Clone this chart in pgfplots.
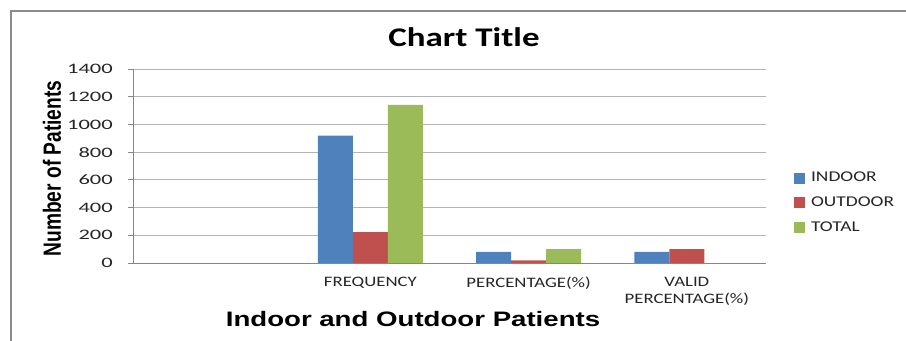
\documentclass[border=0pt]{standalone}
\usepackage{fontspec}
\usepackage{graphicx}
\usepackage{pgfplots}
\pgfplotsset{compat=1.18}

% Wide fonts for the horizontal texts, a condensed one for the rotated axis title
\newfontfamily\tickfont[FakeStretch=1.3]{Carlito}
\newfontfamily\titlefont[FakeStretch=1.3]{Carlito Bold}
\newfontfamily\xlabfont[FakeStretch=1.32]{Liberation Sans Bold}
\newfontfamily\ylabfont[FakeStretch=0.77]{Liberation Sans Bold}
% widened value labels on the vertical axis
\newcommand\ynum[1]{\scalebox{1.2}[1]{#1}}

\definecolor{indoor}{HTML}{4F81BD}
\definecolor{outdoor}{HTML}{C0504D}
\definecolor{total}{HTML}{9BBB59}
\definecolor{axisgray}{HTML}{868686}
\definecolor{gridgray}{HTML}{B4B4B4}
\definecolor{framegray}{HTML}{8C8C8C}

\begin{document}
\begin{tikzpicture}
\useasboundingbox (0,0) rectangle (906bp,341bp);
% outer chart frame
\draw[framegray, line width=1.6bp] (11bp,-2bp) -- (11bp,330bp) -- (910bp,330bp);

\begin{axis}[
  at={(133bp,78bp)}, anchor=south west,
  scale only axis, width=633bp, height=194bp,
  ybar=0pt, bar width=35bp,
  xmin=-0.5, xmax=3.5,
  ymin=0, ymax=1400,
  ytick={0,200,400,600,800,1000,1200,1400},
  yticklabels={\ynum{0},\ynum{200},\ynum{400},\ynum{600},\ynum{800},\ynum{1000},\ynum{1200},\ynum{1400}},
  xtick={0,1,2,3},
  xticklabels={{},{FREQUENCY},{PERCENTAGE(\%)},{VALID\\PERCENTAGE(\%)}},
  axis x line*=bottom, axis y line*=left,
  axis line style={axisgray, line width=0.8bp, -},
  ymajorgrids, grid style={gridgray, line width=0.8bp},
  tick align=outside, major tick length=5bp,
  ytick style={axisgray, line width=0.8bp},
  xtick style={draw=none},
  /pgf/number format/assume math mode=true,
  xticklabel style={font=\tickfont\fontsize{14.5pt}{17pt}\selectfont, text=black!85,
    align=center, anchor=north, inner ysep=0pt, yshift=-9bp},
  yticklabel style={font=\tickfont\fontsize{14.5pt}{17pt}\selectfont, text=black!85,
    anchor=east, inner xsep=0pt, xshift=-15bp},
  legend style={
    at={(1.044,0.31)}, anchor=west, draw=none, fill=none,
    font=\tickfont\fontsize{15pt}{17pt}\selectfont, text=black!85,
    nodes={inner xsep=3bp, inner ysep=0pt, text height=9.5bp, text depth=2.5bp},
    row sep=12.8bp, inner sep=0pt,
    /tikz/every odd column/.append style={column sep=3bp},
  },
  legend cell align=left,
  legend image code/.code={\fill[#1] (0bp,-5.5bp) rectangle (11bp,5.5bp);},
]
\addplot[fill=indoor, draw=none] coordinates {(1,920) (2,80.6) (3,80.6)};
\addplot[fill=outdoor, draw=none] coordinates {(1,222) (2,19.4) (3,100)};
\addplot[fill=total, draw=none] coordinates {(1,1142) (2,100)};
\legend{INDOOR,OUTDOOR,TOTAL}
\end{axis}

\node[font=\titlefont\fontsize{27pt}{30pt}\selectfont, anchor=base] at (464bp,294bp) {Chart Title};
\node[font=\xlabfont\fontsize{21pt}{24pt}\selectfont, anchor=base] at (413bp,14.5bp) {Indoor and Outdoor Patients};
\node[font=\ylabfont\fontsize{25pt}{28pt}\selectfont, rotate=90, anchor=center] at (52bp,172.5bp) {Number of Patients};
\end{tikzpicture}
\end{document}
